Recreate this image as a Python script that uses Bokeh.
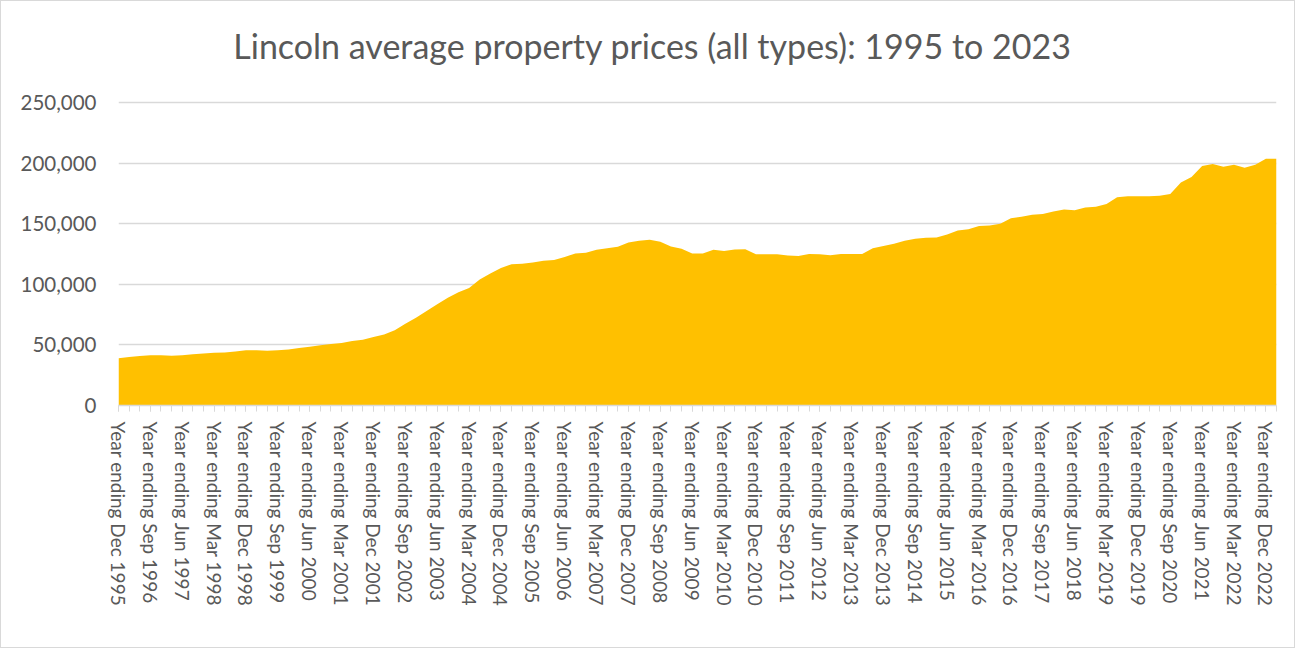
from bokeh.plotting import figure
from bokeh.models import (ColumnDataSource, FixedTicker, NumeralTickFormatter,
                          Range1d, Label)
from bokeh.embed import file_html
from bokeh.resources import INLINE

# ---- data -------------------------------------------------------------
months = ["Mar", "Jun", "Sep", "Dec"]
quarters = ["Year ending Dec 1995"] + [
    f"Year ending {m} {y}" for y in range(1996, 2024) for m in months
][:109]

prices = [
    39000, 40000, 40800, 41400, 41500, 41100, 41500, 42300, 43000, 43500,
    43800, 44600, 45600, 45500, 45200, 45600, 46300, 47500, 48500, 49700,
    50700, 51500, 53200, 54300, 56500, 58500, 62000, 67500, 72500, 78000,
    83500, 89000, 93500, 97000, 104000, 109000, 113500, 116500, 117000, 118000,
    119500, 120000, 122500, 125500, 126000, 128500, 129800, 131000, 134400, 136000,
    136800, 135200, 131200, 129300, 125500, 125500, 128500, 127400, 128800, 129000,
    124700, 124700, 124700, 123700, 123400, 125000, 124700, 123900, 125000, 125000,
    125000, 129800, 131700, 133500, 136000, 137500, 138400, 138700, 141000, 144300,
    145500, 148000, 148600, 150000, 154500, 155700, 157300, 158000, 160000, 161800,
    161000, 163400, 164000, 166300, 171800, 172600, 172600, 172600, 173100, 174500,
    184000, 188500, 197600, 199200, 197000, 198700, 196200, 198700, 203500, 203500,
]

y_ticks = [0, 50000, 100000, 150000, 200000, 250000]
title_text = "Lincoln average property prices (all types): 1995 to 2023"

# ---- layout (pixels) ------------------------------------------------------
W, H = 1295, 648
LEFT, RIGHT, BOTTOM = 117, 20, 244
FRAME_H = H - BOTTOM              # frame runs to the top of the canvas
PLOT_H = 303                      # pixels used by 0 .. 250,000
Y_TOP = y_ticks[-1] * FRAME_H / PLOT_H   # extra room above for the title

FONT = "Lato"
GREY_TXT = "#595959"
GREY_LN = "#d9d9d9"

n = len(prices)
src = ColumnDataSource(dict(x=list(range(n)), v=prices, label=quarters))

p = figure(width=W, height=H, output_backend="svg", toolbar_location=None,
           x_range=Range1d(0, n - 1), y_range=Range1d(0, Y_TOP),
           min_border_left=LEFT, min_border_right=RIGHT, min_border_top=0,
           min_border_bottom=BOTTOM)
p.title = None
p.outline_line_color = None
p.background_fill_color = "white"
p.border_fill_color = "white"

p.varea(x="x", y1=0, y2="v", source=src, fill_color="#FFC000")

# title: drawn inside the (extended) frame, above the 250,000 line
frame_w = W - LEFT - RIGHT
title_cx = (652 - 1 - LEFT) / frame_w * (n - 1)
title_base = (FRAME_H - 43.5) / PLOT_H * y_ticks[-1]
t = Label(x=title_cx, y=title_base, text=title_text, text_font=FONT,
          text_font_size="34px", text_color=GREY_TXT, text_align="center",
          text_baseline="alphabetic")
p.add_layout(t)

# y axis
p.yaxis.ticker = FixedTicker(ticks=y_ticks)
p.yaxis.formatter = NumeralTickFormatter(format="0,0")
p.yaxis.axis_line_color = None
p.yaxis.major_tick_line_color = None
p.yaxis.minor_tick_line_color = None
p.yaxis.major_label_text_font = FONT
p.yaxis.major_label_text_font_size = "20.5px"
p.yaxis.major_label_text_color = GREY_TXT
p.yaxis.major_label_standoff = 16

# x axis
label_idx = list(range(0, n, 3))
p.xaxis.ticker = FixedTicker(ticks=label_idx, minor_ticks=list(range(n)))
p.xaxis.major_label_overrides = {i: quarters[i].replace(" ", "\u00a0") for i in label_idx}
p.xaxis.major_label_orientation = "vertical"
p.xaxis.major_label_text_font = FONT
p.xaxis.major_label_text_font_size = "19px"
p.xaxis.major_label_text_color = GREY_TXT
p.xaxis.axis_line_color = GREY_LN
p.xaxis.axis_line_width = 1.5
p.xaxis.major_tick_line_color = GREY_LN
p.xaxis.minor_tick_line_color = GREY_LN
p.xaxis.major_tick_in = 0
p.xaxis.major_tick_out = 6
p.xaxis.minor_tick_in = 0
p.xaxis.minor_tick_out = 6
p.xaxis.major_label_standoff = 10

# grid
p.xgrid.grid_line_color = None
p.ygrid.ticker = FixedTicker(ticks=y_ticks)
p.ygrid.grid_line_color = GREY_LN
p.ygrid.grid_line_width = 1.5

p.styles = {"border": "1px solid #d9d9d9"}

open("out.html", "w").write(file_html(p, INLINE))
